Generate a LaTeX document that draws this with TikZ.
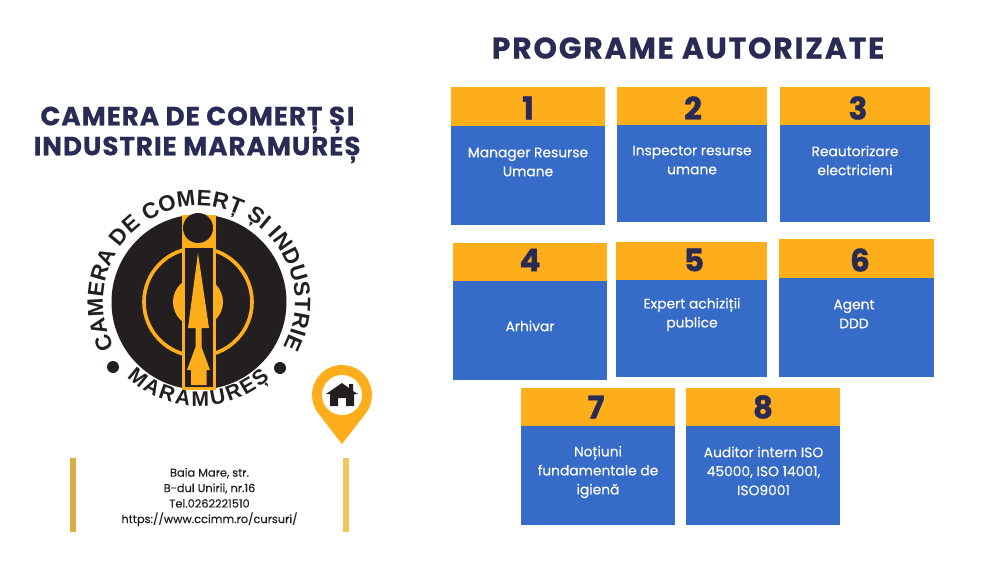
\documentclass[tikz,border=0pt]{standalone}
\usepackage{fontspec}
\setmainfont{Poppins}
\newfontfamily\logofont{Liberation Sans}[Scale=1]
\usetikzlibrary{decorations.text}
\definecolor{gold}{HTML}{FFAE1B}
\definecolor{progblue}{HTML}{366BC8}
\definecolor{navy}{HTML}{2A2B55}
\definecolor{logoblack}{HTML}{231F20}
\definecolor{barleft}{HTML}{DCAE3F}
\definecolor{barright}{HTML}{EFC858}
\tikzset{
  heading/.style={text=navy,font=\bfseries\fontsize{22.4}{25.6}\selectfont\addfontfeatures{LetterSpace=3.5,FakeBold=.4},align=center},
  number/.style={text=navy,font=\bfseries\fontsize{26.5}{30}\selectfont\addfontfeatures{FakeBold=1.2}},
  boxlabel/.style={text=white,font=\fontsize{11.8}{16.2}\selectfont\addfontfeatures{FakeBold=.2},align=center},
  address/.style={text=logoblack,font=\fontsize{9.7}{13.2}\selectfont\addfontfeatures{FakeBold=.2},align=center}
}
\begin{document}
\begin{tikzpicture}[x=.03cm,y=.03cm]
    \useasboundingbox[fill=white] (0,0) rectangle (1000,-562);
    \node[heading,font=\bfseries\fontsize{25.5}{30}\selectfont\addfontfeatures{LetterSpace=6,FakeBold=.4}] (title) at (688,-48) {PROGRAME AUTORIZATE};
    \node[heading] (chamber) at (197.5,-135) {CAMERA DE COMERȚ ȘI\\INDUSTRIE MARAMUREȘ};
    % x0, x1, top, header bottom, bottom, number x, number y, n, text centre y, label
    \foreach \xa/\xb/\ya/\yb/\yc/\nx/\ny/\n/\tx/\ty/\lab in {
      451/605/87/126/225/528/108/1/528/162/{Manager Resurse\\Umane},
      617/767/87/125/222/693/108/2/692/160/{Inspector resurse\\umane},
      780/930/87/125/222/858/108/3/855/160.5/{Reautorizare\\electricieni},
      453/607/243/281/380/530/260/4/530/326/{Arhivar},
      616/767/242/280/377/694/260/5/692/314.5/{Expert achiziții\\publice},
      779/934/239/278/377/860/260/6/854/314/{Agent\\DDD},
      521/675/388/426/525/596/407/7/598/472/{Noțiuni\\fundamentale de\\igienă},
      686/840/388/426/525/763/407/8/763.5/471/{Auditor intern ISO\\45000, ISO 14001,\\ISO9001}} {
      \fill[progblue] (\xa,-\yb) rectangle (\xb,-\yc);
      \fill[gold] (\xa,-\ya) rectangle (\xb,-\yb);
      \node[number] (num\n) at (\nx,-\ny) {\n};
      \node[boxlabel] (lab\n) at (\tx,-\ty) {\lab};
    }
    %Logo
    \coordinate (logo) at (199,-302);
    \fill[logoblack] (logo) circle (87.5);
    \draw[gold,line width=.11cm] (198,-302) circle (54);
    \fill[gold] (198,-302) circle (25);
    \fill[gold] (182,-215) rectangle (216,-390);
    \fill[logoblack] (198,-228) circle (15);
    \fill[logoblack] (185,-248) rectangle (213,-387);
    \fill[gold] (198,-253) -- (209,-328) -- (201.5,-328) -- (201.5,-347) -- (210,-370) -- (206.5,-370) -- (206.5,-385) -- (191,-385) -- (191,-370) -- (187,-370) -- (195.5,-347) -- (195.5,-328) -- (188,-328) -- cycle;
    \fill[logoblack] (113,-367) circle (6);
    \fill[logoblack] (280,-368) circle (6);
    \path[decorate,decoration={text along path,text align={fit to path},
      text={|\logofont\bfseries\fontsize{19}{19}\selectfont\color{logoblack}|CAMERA DE COMERȚ ȘI INDUSTRIE}}]
      (logo) ++(208:96) arc (208:-28:96);
    \path[decorate,decoration={text along path,text align={fit to path},
      text={|\logofont\bfseries\fontsize{18}{18}\selectfont\color{logoblack}|MARAMUREȘ}}]
      (logo) ++(226:104) arc (226:313:104);
    %Pin
    \coordinate (pin) at (342,-395);
    \fill[gold] (342,-444) -- ([shift={(pin)}]-38:30) arc (-38:218:30) -- cycle;
    \fill[white] (pin) circle (20);
    \fill[logoblack] (330,-406) -- (330,-394) -- (326,-394) -- (342,-383) -- (349,-388) -- (349,-384) -- (353,-384) -- (353,-391) -- (358,-394) -- (354,-394) -- (354,-406) -- (346,-406) -- (346,-398) -- (338,-398) -- (338,-406) -- cycle;
    %Address
    \node[address] (addr) at (209.5,-497) {Baia Mare, str.\\B-dul Unirii, nr.16\\Tel.0262221510\\https://www.ccimm.ro/cursuri/};
    \fill[barleft] (70,-458) rectangle (76,-532);
    \fill[barright] (343,-458) rectangle (349,-532);
\end{tikzpicture}
\end{document}
